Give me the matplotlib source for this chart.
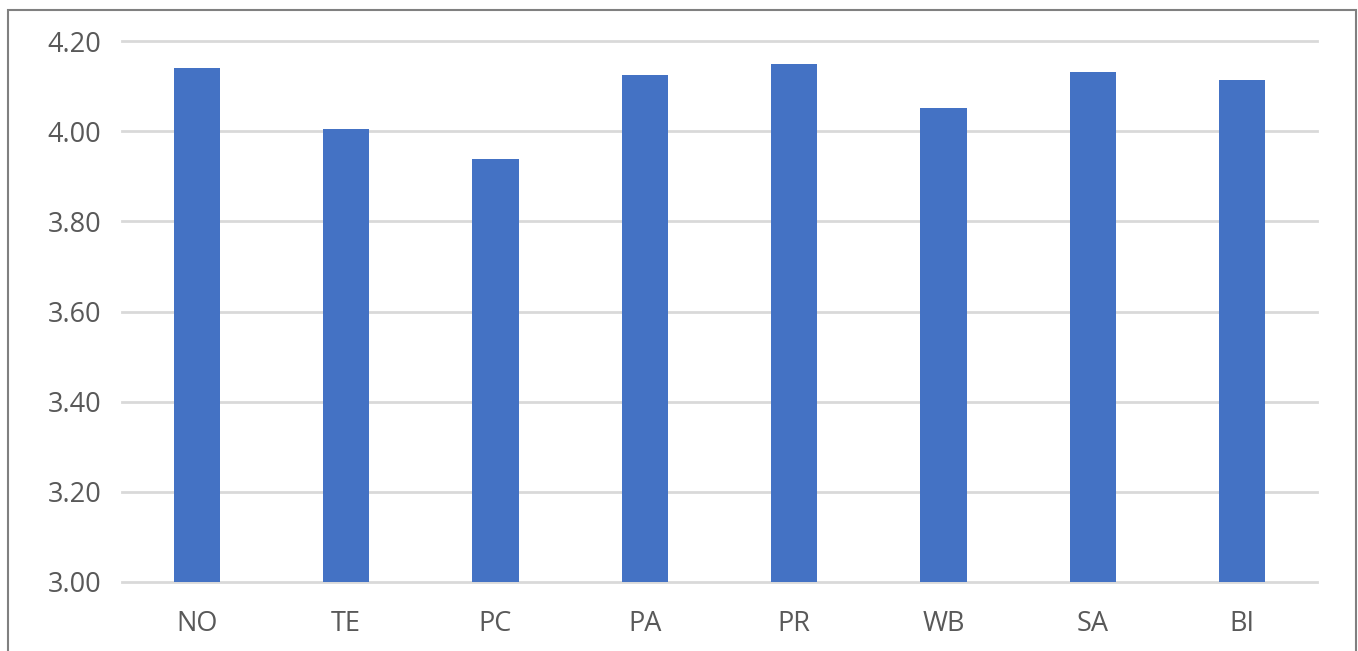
import matplotlib.pyplot as plt
from matplotlib.patches import Rectangle

categories = ['NO', 'TE', 'PC', 'PA', 'PR', 'WB', 'SA', 'BI']
values = [4.14, 4.004, 3.938, 4.125, 4.149, 4.051, 4.131, 4.114]
yticks = [3.00, 3.20, 3.40, 3.60, 3.80, 4.00, 4.20]

plt.rcParams['font.family'] = ['Open Sans', 'DejaVu Sans']

fig = plt.figure(figsize=(13.58, 6.51), dpi=100)
ax = fig.add_axes([122 / 1358, 1 - 582 / 651, 1195 / 1358, 541 / 651])

x = range(len(categories))
ax.bar(x, [v - 3.0 for v in values], bottom=3.0, width=0.31, color='#4472C4', zorder=3)

ax.set_xlim(-0.5, len(categories) - 0.5)
ax.set_ylim(3.0, 4.2)
ax.set_yticks(yticks)
ax.set_yticklabels(['%.2f' % t for t in yticks])
ax.set_xticks(list(x))
ax.set_xticklabels(categories)

ax.grid(axis='y', color='#d9d9d9', linewidth=2, zorder=0)
for line in ax.get_ygridlines():
    line.set_clip_on(False)
for s in ax.spines.values():
    s.set_visible(False)
ax.tick_params(axis='both', length=0, labelsize=19.5, colors='#595959')
ax.tick_params(axis='y', pad=15)
ax.tick_params(axis='x', pad=20)

# outer frame (bottom edge falls outside the image)
fig.patches.append(Rectangle((8 / 1358, -0.05), 1348 / 1358, 1.05 - 10 / 651,
                             transform=fig.transFigure, fill=False,
                             edgecolor='#808080', linewidth=1.5))

fig.savefig('out.png', dpi=100)
